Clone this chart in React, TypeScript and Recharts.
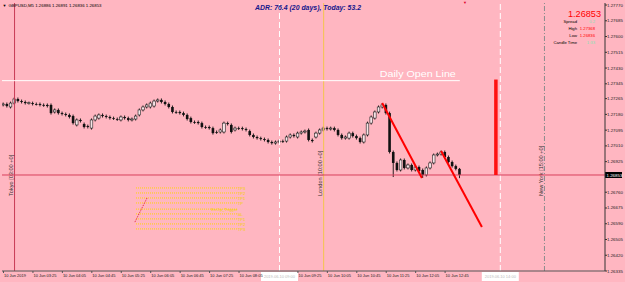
import React from 'react';
import { ComposedChart, Bar, XAxis, YAxis, ReferenceLine } from 'recharts';

// [open, high, low, close]
const candles: [number, number, number, number][] = [
  [1.27231, 1.27244, 1.27223, 1.27236], [1.27236, 1.27244, 1.27217, 1.27225], [1.2722, 1.27249, 1.27212, 1.27241],
  [1.27241, 1.27271, 1.27233, 1.27263], [1.27263, 1.27271, 1.27244, 1.27252], [1.27252, 1.2726, 1.27239, 1.27247],
  [1.27247, 1.27255, 1.27233, 1.27241], [1.27241, 1.27249, 1.27233, 1.27243], [1.27241, 1.27249, 1.27228, 1.27236],
  [1.27236, 1.27244, 1.27228, 1.27234], [1.27236, 1.27244, 1.27223, 1.27231], [1.27231, 1.27239, 1.27221, 1.27229],
  [1.27231, 1.27239, 1.27217, 1.27225], [1.27231, 1.27239, 1.27179, 1.27187], [1.27193, 1.27212, 1.27185, 1.27204],
  [1.27204, 1.27212, 1.27179, 1.27187], [1.27187, 1.27195, 1.27174, 1.27182], [1.27182, 1.2719, 1.27169, 1.27177],
  [1.27177, 1.27185, 1.27158, 1.27166], [1.27171, 1.27179, 1.27125, 1.27133], [1.27123, 1.27158, 1.27115, 1.2715],
  [1.2715, 1.27158, 1.27136, 1.27144], [1.27128, 1.27136, 1.27104, 1.27112], [1.27117, 1.27125, 1.27104, 1.27112],
  [1.27106, 1.27158, 1.27098, 1.2715], [1.2715, 1.27179, 1.27142, 1.27171], [1.2716, 1.27185, 1.27152, 1.27177],
  [1.27177, 1.27185, 1.27163, 1.27171], [1.27171, 1.27179, 1.27158, 1.27166], [1.27166, 1.27174, 1.27152, 1.2716],
  [1.2716, 1.27168, 1.2715, 1.27158], [1.27155, 1.27163, 1.27145, 1.27153], [1.2715, 1.27174, 1.27142, 1.27166],
  [1.27166, 1.27174, 1.27152, 1.2716], [1.2716, 1.27168, 1.27142, 1.2715], [1.2715, 1.27163, 1.27142, 1.27155],
  [1.27155, 1.27179, 1.27147, 1.27171], [1.27177, 1.27212, 1.27169, 1.27204], [1.27204, 1.27228, 1.27196, 1.2722],
  [1.2722, 1.27239, 1.27212, 1.27231], [1.2722, 1.27249, 1.27212, 1.27241], [1.27225, 1.2726, 1.27217, 1.27252],
  [1.27252, 1.27266, 1.27244, 1.27258], [1.27258, 1.27266, 1.27239, 1.27247], [1.27247, 1.27255, 1.27228, 1.27236],
  [1.27236, 1.27244, 1.27212, 1.2722], [1.2722, 1.27228, 1.27185, 1.27193], [1.27193, 1.27201, 1.27183, 1.27191],
  [1.27193, 1.27201, 1.27179, 1.27187], [1.27187, 1.27195, 1.27169, 1.27177], [1.27177, 1.27185, 1.27147, 1.27155],
  [1.2716, 1.27168, 1.27131, 1.27139], [1.27139, 1.27147, 1.27129, 1.27137], [1.27139, 1.27147, 1.27125, 1.27133],
  [1.27133, 1.27141, 1.27104, 1.27112], [1.27112, 1.2712, 1.27102, 1.2711], [1.27112, 1.2712, 1.27098, 1.27106],
  [1.27106, 1.27114, 1.27071, 1.27079], [1.27085, 1.27093, 1.27075, 1.27083], [1.27085, 1.27104, 1.27077, 1.27096],
  [1.27085, 1.27141, 1.27077, 1.27133], [1.27133, 1.27141, 1.2712, 1.27128], [1.27123, 1.27131, 1.27077, 1.27085],
  [1.27096, 1.27114, 1.27088, 1.27106], [1.27106, 1.27114, 1.27096, 1.27104], [1.27106, 1.27114, 1.27093, 1.27101],
  [1.27101, 1.27109, 1.27088, 1.27096], [1.2709, 1.27098, 1.27061, 1.27069], [1.27069, 1.27077, 1.2705, 1.27058],
  [1.27058, 1.27066, 1.27044, 1.27052], [1.27052, 1.2706, 1.27039, 1.27047], [1.27047, 1.27055, 1.27034, 1.27042],
  [1.27042, 1.2705, 1.27023, 1.27031], [1.27031, 1.27039, 1.27017, 1.27025], [1.27025, 1.27039, 1.27017, 1.27031],
  [1.27031, 1.27044, 1.27023, 1.27036], [1.27036, 1.27044, 1.27026, 1.27034], [1.27036, 1.27066, 1.27028, 1.27058],
  [1.27058, 1.27077, 1.2705, 1.27069], [1.27069, 1.27077, 1.27055, 1.27063], [1.27058, 1.27087, 1.2705, 1.27079],
  [1.27079, 1.27093, 1.27071, 1.27085], [1.27085, 1.27098, 1.27077, 1.2709], [1.27096, 1.27104, 1.27034, 1.27042],
  [1.27042, 1.2705, 1.27028, 1.27036], [1.27058, 1.27087, 1.2705, 1.27079], [1.27079, 1.27104, 1.27071, 1.27096],
  [1.27096, 1.27114, 1.27088, 1.27106], [1.27106, 1.27114, 1.27093, 1.27101], [1.27101, 1.27114, 1.27093, 1.27106],
  [1.27106, 1.27114, 1.27088, 1.27096], [1.27096, 1.27104, 1.27061, 1.27069], [1.27069, 1.27077, 1.27044, 1.27052],
  [1.27052, 1.27066, 1.27044, 1.27058], [1.27052, 1.27087, 1.27044, 1.27079], [1.27079, 1.27087, 1.27055, 1.27063],
  [1.27063, 1.27071, 1.27044, 1.27052], [1.27052, 1.2706, 1.27023, 1.27031], [1.27031, 1.27077, 1.27023, 1.27069],
  [1.27069, 1.27141, 1.27061, 1.27133], [1.27133, 1.27174, 1.27125, 1.27166], [1.2716, 1.27201, 1.27152, 1.27193],
  [1.27193, 1.27228, 1.27185, 1.2722], [1.2722, 1.27241, 1.27212, 1.27231], [1.27231, 1.27239, 1.27179, 1.27187],
  [1.27187, 1.27195, 1.26969, 1.26977], [1.26977, 1.26985, 1.26842, 1.26918], [1.26918, 1.26926, 1.26872, 1.2688],
  [1.2688, 1.26942, 1.26872, 1.26934], [1.26934, 1.26942, 1.26883, 1.26891], [1.26891, 1.26915, 1.26883, 1.26907],
  [1.26907, 1.26915, 1.26872, 1.2688], [1.2688, 1.26904, 1.26872, 1.26896], [1.26896, 1.26904, 1.26867, 1.26875],
  [1.2688, 1.26888, 1.26837, 1.26853], [1.26853, 1.26899, 1.26845, 1.26891], [1.26891, 1.26926, 1.26883, 1.26918],
  [1.26918, 1.26969, 1.2691, 1.26961], [1.26961, 1.26974, 1.26953, 1.26966], [1.26966, 1.26985, 1.26958, 1.26977],
  [1.26977, 1.26985, 1.26942, 1.2695], [1.2695, 1.26958, 1.26915, 1.26923], [1.26923, 1.26931, 1.26893, 1.26901],
  [1.26901, 1.26909, 1.26878, 1.26886], [1.26886, 1.26891, 1.26836, 1.26853],
];

const timeTicks = [0, 8, 16, 24, 32, 40, 48, 56, 64, 80, 88, 96, 104, 112, 120];
const timeLabels = [
  '10 Jun 2019', '10 Jun 03:25', '10 Jun 04:05', '10 Jun 04:45', '10 Jun 05:25', '10 Jun 06:05',
  '10 Jun 06:45', '10 Jun 07:25', '10 Jun 08:05', '10 Jun 09:25', '10 Jun 10:05', '10 Jun 10:45',
  '10 Jun 11:25', '10 Jun 12:05', '10 Jun 12:45',
];
const priceTicks = [
  1.2777, 1.27685, 1.276, 1.27515, 1.2743, 1.27345, 1.27265, 1.2718, 1.27095, 1.2701,
  1.26925, 1.2676, 1.26675, 1.2659, 1.26505, 1.2642, 1.26335,
];

const sessions = [
  { label: 'Tokyo [03:00 +0]', bar: 3, color: '#c83a55', dash: undefined as string | undefined },
  { label: 'London [10:00 +0]', bar: 87, color: '#f2c44e', dash: undefined as string | undefined },
  { label: 'New York [15:00 +0]', bar: 147, color: '#8c8c8c', dash: '5 2 1 2' },
];
const cursorBars = [75, 135];
const cursorLabels = ['2019.06.10 09:00', '2019.06.10 14:00'];

const bid = 1.26853;
const dailyOpen = 1.27362;
const dayHigh = 1.27368;
const dayLow = 1.26836;
const lastBar = 124;
const rangeBar = 133.8;

const trendLines = [
  [{ x: 102.9, y: 1.27241 }, { x: 113.7, y: 1.26837 }],
  [{ x: 118.9, y: 1.26982 }, { x: 130, y: 1.26572 }],
];

const tpLevels = [1.26783, 1.26756, 1.26729, 1.26702, 1.26669, 1.26643, 1.26616, 1.26589, 1.26562];
const tpNames = ['TP3', 'TP2', 'TP1', 'TP', 'EnOp_Trigger', 'SL', 'TP1', 'TP2', 'TP3'];
const tpFrom = 36;
const tpTo = 63.5;

const data = candles.map(([o, h, l, c], i) => ({ i, o, h, l, c, range: [l, h] }));

const FONT = 'Liberation Sans, Arial, sans-serif';

const Candle = (props: any) => {
  const { x, y, width, height, payload } = props;
  if (!payload) return null;
  const { o, h, l, c } = payload;
  const top = Math.min(y, y + height);
  const span = Math.abs(height);
  const k = span / (h - l);
  const cx = x + width / 2;
  const yo = top + (h - o) * k;
  const yc = top + (h - c) * k;
  const bTop = Math.min(yo, yc);
  const bH = Math.max(Math.abs(yc - yo), 0.8);
  const bull = c > o;
  return (
    <g>
      <line x1={cx} x2={cx} y1={top} y2={top + span} stroke="#111" strokeWidth={0.9} />
      <rect
        x={cx - 1.3}
        y={bTop}
        width={2.6}
        height={bH}
        fill={bull ? '#f6e4e7' : '#111'}
        stroke="#222"
        strokeWidth={bull ? 0.6 : 0}
      />
    </g>
  );
};

const TimeTick = ({ x, y, payload }: any) => {
  const idx = timeTicks.indexOf(payload.value);
  return (
    <text x={x + 0.5} y={y + 4.3} fontSize={4} fill="#222" fontFamily={FONT}>
      {timeLabels[idx]}
    </text>
  );
};

const PriceTick = ({ x, y, payload }: any) => (
  <text x={x} y={y + 1.5} fontSize={4.4} fill="#222" fontFamily={FONT}>
    {payload.value.toFixed(5)}
  </text>
);

const SessionLabel = ({ viewBox, text }: any) => {
  const tx = viewBox.x - 1.5;
  const ty = viewBox.y + 193;
  return (
    <text
      x={tx}
      y={ty}
      transform={`rotate(-90 ${tx} ${ty})`}
      fontSize={5.6}
      fill="#333"
      fontFamily={FONT}
    >
      {text}
    </text>
  );
};

const CursorLabel = ({ viewBox, text }: any) => {
  const bottom = viewBox.y + viewBox.height;
  return (
    <g>
      <rect x={viewBox.x - 18.5} y={bottom + 1} width={37} height={9} fill="#fff" />
      <text x={viewBox.x} y={bottom + 7.3} fontSize={4} fill="#bbb" textAnchor="middle" fontFamily={FONT}>
        {text}
      </text>
    </g>
  );
};

const BidLabel = ({ viewBox }: any) => {
  const ax = viewBox.x + viewBox.width;
  return (
    <g>
      <rect x={ax} y={viewBox.y - 3} width={17} height={6} fill="#000" />
      <text x={ax + 1.5} y={viewBox.y + 1.6} fontSize={4.4} fill="#fff" fontFamily={FONT}>
        {bid.toFixed(5)}
      </text>
    </g>
  );
};

const OpenLabel = ({ viewBox }: any) => (
  <text
    x={viewBox.x + viewBox.width - 4}
    y={viewBox.y - 3.5}
    fontSize={9.5}
    fill="#fff"
    textAnchor="end"
    textLength={76}
    lengthAdjust="spacingAndGlyphs"
    fontFamily={FONT}
  >
    Daily Open Line
  </text>
);

const TpLabel = ({ viewBox, text }: any) => (
  <text
    x={viewBox.x + viewBox.width + 0.5}
    y={viewBox.y + 1.6}
    fontSize={4.2}
    fill="#f5d000"
    textAnchor={text.length > 3 ? 'end' : 'start'}
    fontFamily={FONT}
  >
    {text}
  </text>
);

export default function App() {
  return (
    <div
      style={{
        position: 'absolute',
        left: 0,
        top: 0,
        width: 625,
        height: 282,
        background: '#ffb6c1',
        overflow: 'hidden',
      }}
    >
      <ComposedChart width={625} height={282} data={data} margin={{ top: 3, right: 0, bottom: 0, left: 2 }}>
        <XAxis
          dataKey="i"
          type="number"
          domain={[-0.41, 163.45]}
          allowDataOverflow
          ticks={timeTicks}
          interval={0}
          height={11}
          tickSize={2}
          tickMargin={0}
          tick={<TimeTick />}
          stroke="#555"
        />
        <YAxis
          orientation="right"
          type="number"
          domain={[1.26335, 1.27781]}
          allowDataOverflow
          ticks={priceTicks}
          interval={0}
          width={20}
          tickSize={2}
          tickMargin={0}
          tick={<PriceTick />}
          stroke="#333"
        />
        {cursorBars.map((b, k) => (
          <ReferenceLine
            key={`c${k}`}
            x={b}
            stroke="#ffffff"
            strokeDasharray="6 3"
            label={<CursorLabel text={cursorLabels[k]} />}
          />
        ))}
        {sessions.map((s) => (
          <ReferenceLine
            key={s.label}
            x={s.bar}
            stroke={s.color}
            strokeDasharray={s.dash}
            label={<SessionLabel text={s.label} />}
          />
        ))}
        <ReferenceLine y={bid} stroke="#d8405c" label={<BidLabel />} />
        <ReferenceLine
          segment={[{ x: -0.41, y: dailyOpen }, { x: lastBar, y: dailyOpen }]}
          stroke="#ffffff"
          strokeWidth={1}
          label={<OpenLabel />}
        />
        {tpLevels.map((v, k) => (
          <ReferenceLine
            key={`tp${k}`}
            segment={[{ x: tpFrom, y: v }, { x: tpTo, y: v }]}
            stroke="#ffd400"
            strokeDasharray="1 1"
            label={<TpLabel text={tpNames[k]} />}
          />
        ))}
        <ReferenceLine
          segment={[{ x: 35.7, y: 1.26599 }, { x: 39, y: 1.26729 }]}
          stroke="#e0203a"
          strokeDasharray="1 1"
        />
        <Bar dataKey="range" barSize={3} shape={<Candle />} isAnimationActive={false} />
        {trendLines.map((seg, k) => (
          <ReferenceLine key={`t${k}`} segment={seg} stroke="#ff0000" strokeWidth={2} />
        ))}
        <ReferenceLine
          segment={[{ x: rangeBar, y: dayHigh }, { x: rangeBar, y: bid }]}
          stroke="#ff1010"
          strokeWidth={3.5}
        />
      </ComposedChart>
      <svg
        width={625}
        height={282}
        style={{ position: 'absolute', left: 0, top: 0, pointerEvents: 'none' }}
        fontFamily={FONT}
      >
        <text x={2.5} y={6.5} fontSize={4} fill="#000">▼</text>
        <text x={8.5} y={6.8} fontSize={4.3} fill="#000" textLength={93} lengthAdjust="spacingAndGlyphs">
          GBPUSD,M5  1.26886 1.26891 1.26836 1.26853
        </text>
        <text
          x={255}
          y={10}
          fontSize={7}
          fontWeight="bold"
          fontStyle="italic"
          fill="#16168c"
          textLength={106}
          lengthAdjust="spacingAndGlyphs"
        >
          ADR: 76.4 (20 days), Today: 53.2
        </text>
        <text x={463} y={3.5} fontSize={4} fill="#e0002a">▼</text>
        <text x={601} y={17} fontSize={9.5} fill="#ff0000" textAnchor="end" textLength={33} lengthAdjust="spacingAndGlyphs">
          {bid.toFixed(5)}
        </text>
        <text x={577} y={23} fontSize={4.2} fill="#000" textAnchor="end">Spread</text>
        <text x={595} y={23} fontSize={4.2} fill="#7fe3b4" textAnchor="end">0.2</text>
        <text x={577} y={30} fontSize={4.2} fill="#000" textAnchor="end">High</text>
        <text x={595} y={30} fontSize={4.2} fill="#ff0000" textAnchor="end">{dayHigh.toFixed(5)}</text>
        <text x={577} y={37} fontSize={4.2} fill="#000" textAnchor="end">Low</text>
        <text x={595} y={37} fontSize={4.2} fill="#ff0000" textAnchor="end">{dayLow.toFixed(5)}</text>
        <text x={577} y={44} fontSize={4.2} fill="#000" textAnchor="end">Candle Time</text>
        <text x={595} y={44} fontSize={4.2} fill="#7fe3b4" textAnchor="end">1:33</text>
      </svg>
    </div>
  );
}
